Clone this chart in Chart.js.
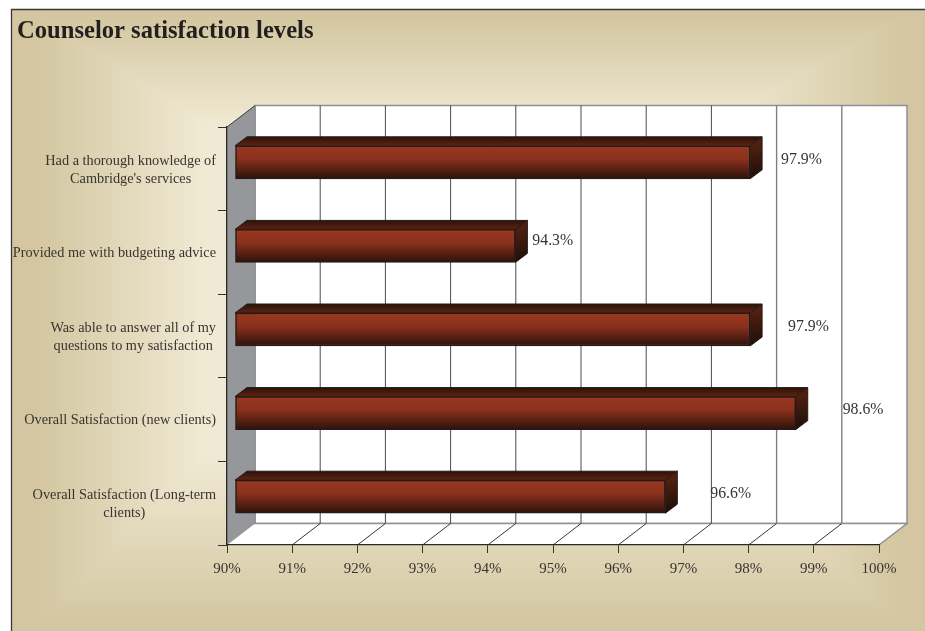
<!DOCTYPE html>
<html><head><meta charset="utf-8">
<style>html,body{margin:0;padding:0;background:#fff}canvas{display:block}</style>
<script src="https://cdn.jsdelivr.net/npm/chart.js@4"></script>
</head><body><canvas id="c" width="925" height="631"></canvas>
<script>
const titleText = "Counselor satisfaction levels";
const categories = [
  ["Had a thorough knowledge of", "Cambridge's services"],
  ["Provided me with budgeting advice"],
  ["Was able to answer all of my", "questions to my satisfaction"],
  ["Overall Satisfaction (new clients)"],
  ["Overall Satisfaction (Long-term", "clients)"]
];
const satisfaction = [97.9, 94.3, 97.9, 98.6, 96.6];
const axisMin = 90, axisMax = 100, axisStep = 1;

const SERIF = '"Liberation Serif","Times New Roman",serif';
const INK = '#38342f';
const wall = {dx: 28, dy: -21.5};           // depth of the plot box
const shift = {dx: 8, dy: -6.5};            // bars sit inside the box
const depth = {dx: 12, dy: -9};             // depth of each bar
const nudge = [[39,-10],[25,-12.5],[46,-10],[55,-11],[53,-10.5]]; // value label placement

function poly(ctx, pts, fill, stroke, lw){
  ctx.beginPath();
  pts.forEach((p,i)=> i?ctx.lineTo(p[0],p[1]):ctx.moveTo(p[0],p[1]));
  ctx.closePath();
  if(fill){ctx.fillStyle=fill;ctx.fill();}
  if(stroke){ctx.strokeStyle=stroke;ctx.lineWidth=lw||1;ctx.stroke();}
}
function paintBackground(ctx,W,H){
  const img = ctx.createImageData(W,H), d = img.data;
  const a=[211,198,160], b=[240,234,212];
  for(let y=0;y<H;y++)for(let x=0;x<W;x++){
    const i=(y*W+x)*4;
    if(x<11||y<9){d[i]=d[i+1]=d[i+2]=255;d[i+3]=255;continue;}
    let t=Math.min((x-35)/170,(905-x)/190,(y-15)/110,(625-y)/170);
    t=Math.max(0,Math.min(1,t));
    for(let k=0;k<3;k++)d[i+k]=a[k]+(b[k]-a[k])*t;
    d[i+3]=255;
  }
  ctx.putImageData(img,0,0);
}
const scene = {
  id:'scene',
  beforeDraw(chart){
    const {ctx,scales:{x},chartArea:A}=chart;
    ctx.save();
    paintBackground(ctx,chart.width,chart.height);
    ctx.strokeStyle='#3a3835';ctx.lineWidth=1.3;
    ctx.beginPath();ctx.moveTo(11.5,631);ctx.lineTo(11.5,9.5);ctx.lineTo(925,9.5);ctx.stroke();
    const L=A.left,R=A.right,T=A.top,B=A.bottom,dx=wall.dx,dy=wall.dy;
    poly(ctx,[[L+dx,T+dy],[R+dx,T+dy],[R+dx,B+dy],[L+dx,B+dy]],'#fff','#8f9094',1.5);
    poly(ctx,[[L,B],[L+dx,B+dy],[R+dx,B+dy],[R,B]],'#fff');
    poly(ctx,[[L,T],[L+dx,T+dy],[L+dx,B+dy],[L,B]],'#96979b');
    ctx.strokeStyle='#8f9094';ctx.lineWidth=1.5;
    ctx.beginPath();ctx.moveTo(L+dx,T+dy);ctx.lineTo(L+dx,B+dy);ctx.lineTo(R+dx,B+dy);ctx.lineTo(R,B);ctx.stroke();
    ctx.strokeStyle='#3a3835';ctx.lineWidth=1;
    ctx.beginPath();ctx.moveTo(L,T);ctx.lineTo(L+dx,T+dy);ctx.stroke();
    x.ticks.forEach(t=>{
      const px=x.getPixelForValue(t.value);
      if(t.value===axisMin)return;
      if(t.value<axisMax){
        ctx.strokeStyle='#3a3835';ctx.lineWidth=1;
        ctx.beginPath();ctx.moveTo(px,B);ctx.lineTo(px+dx,B+dy);ctx.stroke();
        ctx.strokeStyle=t.value>=98?'#808084':'#4a4a4c';ctx.lineWidth=t.value>=98?1.4:1;
        ctx.beginPath();ctx.moveTo(px+dx,B+dy);ctx.lineTo(px+dx,T+dy);ctx.stroke();
      }
    });
    ctx.restore();
  },
  beforeDatasetDraw(chart){
    const ctx=chart.ctx, sx=chart.scales.x;
    chart.getDatasetMeta(0).data.forEach(bar=>{
      const l=sx.getPixelForValue(axisMin)+shift.dx,r=bar.x+shift.dx,h=bar.height/2;
      const t=bar.y+shift.dy-h,b=bar.y+shift.dy+h,dx=depth.dx,dy=depth.dy;
      let g=ctx.createLinearGradient(0,t+dy,0,t);
      g.addColorStop(0,'#2c120a');g.addColorStop(1,'#5e2411');
      poly(ctx,[[l,t],[l+dx,t+dy],[r+dx,t+dy],[r,t]],g,'#241a17',1);
      g=ctx.createLinearGradient(r,t,r+dx*0.4,b);
      g.addColorStop(0,'#50200f');g.addColorStop(1,'#1d0e09');
      poly(ctx,[[r,t],[r+dx,t+dy],[r+dx,b+dy],[r,b]],g,'#241a17',1);
    });
    ctx.save();
    ctx.beginPath();ctx.rect(0,0,chart.width,chart.height);ctx.clip();
    ctx.translate(shift.dx,shift.dy);
  },
  afterDatasetDraw(chart){chart.ctx.restore();},
  afterDraw(chart){
    const {ctx,scales:{y}}=chart;
    ctx.save();
    ctx.fillStyle=INK;ctx.textBaseline='middle';
    ctx.font='14.3px '+SERIF;ctx.textAlign='center';
    const right=216;
    categories.forEach((lines,i)=>{
      const w=Math.max(...lines.map(s=>ctx.measureText(s).width));
      const cy=y.getPixelForTick(i)+1,lh=18;
      lines.forEach((s,k)=>ctx.fillText(s,right-w/2,cy+(k-(lines.length-1)/2)*lh));
    });
    ctx.font='15.8px '+SERIF;ctx.textAlign='left';
    chart.getDatasetMeta(0).data.forEach((bar,i)=>{
      ctx.fillText(satisfaction[i].toFixed(1)+'%',bar.x+nudge[i][0],bar.y+nudge[i][1]+1);
    });
    ctx.restore();
  }
};
new Chart(document.getElementById('c'),{
  type:'bar',
  plugins:[scene],
  data:{labels:categories,datasets:[{
    data:satisfaction,
    base:axisMin,
    barThickness:33,
    borderWidth:1.5,
    borderColor:'#241a17',
    borderSkipped:false,
    backgroundColor(c){
      const y=c.chart.scales.y; if(!y||c.dataIndex===undefined)return '#7e2c1b';
      const m=y.getPixelForTick(c.dataIndex);
      const g=c.chart.ctx.createLinearGradient(0,m-16.5,0,m+16.5);
      g.addColorStop(0,'#9a3720');g.addColorStop(0.4,'#8a311c');g.addColorStop(1,'#2c120b');
      return g;
    }
  }]},
  options:{
    indexAxis:'y',responsive:false,animation:false,
    layout:{padding:{left:17,right:46,top:0,bottom:0}},
    plugins:{
      legend:{display:false},tooltip:{enabled:false},
      title:{display:true,text:titleText,align:'start',color:'#231f1c',
        font:{family:SERIF,size:24.6,weight:'bold',lineHeight:1.2},
        padding:{top:17,bottom:80.5}}
    },
    scales:{
      x:{min:axisMin,max:axisMax,
        ticks:{stepSize:axisStep,color:INK,padding:7,maxRotation:0,autoSkip:false,
          font:{family:SERIF,size:15},callback:v=>v+'%'},
        grid:{drawOnChartArea:false,tickLength:8,color:'#333',offset:false},
        border:{color:'#2a2826',width:1.3},
        afterFit(s){s.height=86;}
      },
      y:{
        ticks:{display:false},
        grid:{drawOnChartArea:false,tickLength:9,color:'#333',offset:true},
        border:{color:'#2a2826',width:1.3},
        afterFit(s){s.width=210;}
      }
    }
  }
});
</script></body></html>
